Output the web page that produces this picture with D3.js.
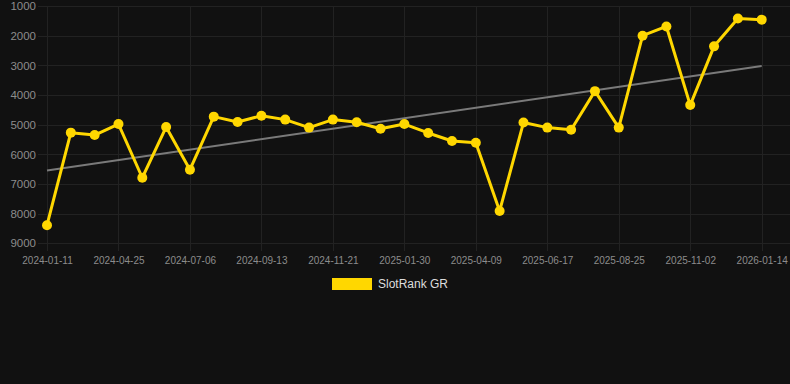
<!DOCTYPE html>
<html>
<head>
<meta charset="utf-8">
<script src="https://cdn.jsdelivr.net/npm/d3@7"></script>
<style>
  html, body { margin: 0; padding: 0; background: #111111; }
  svg { display: block; }
</style>
</head>
<body>
<svg id="chart" width="790" height="384"></svg>
<script>
const dates = [
  "2024-01-11","2024-02-15","2024-03-21","2024-04-25","2024-05-19","2024-06-12",
  "2024-07-06","2024-07-29","2024-08-21","2024-09-13","2024-10-06","2024-10-29",
  "2024-11-21","2024-12-14","2025-01-07","2025-01-30","2025-02-22","2025-03-17",
  "2025-04-09","2025-05-02","2025-05-25","2025-06-17","2025-07-10","2025-08-02",
  "2025-08-25","2025-09-17","2025-10-10","2025-11-02","2025-11-26","2025-12-20",
  "2026-01-14"
];
const ranks = [
  8390, 5270, 5350, 4980, 6790, 5080, 6520, 4730, 4910, 4700, 4830,
  5100, 4830, 4920, 5140, 4980, 5280, 5550, 5610, 7910, 4930, 5100,
  5170, 3870, 5100, 2000, 1690, 4340, 2360, 1420, 1460
];
const yTicks = [1000, 2000, 3000, 4000, 5000, 6000, 7000, 8000, 9000];
const seriesName = "SlotRank GR";

(function () {
const W = 790, H = 384;
const pLeft = 47, pRight = 761.7, pTop = 6, pBottom = 243.3;

const svg = d3.select("#chart");
svg.append("rect").attr("width", W).attr("height", H).attr("fill", "#111111");

const x = d3.scalePoint().domain(dates).range([pLeft, pRight]);
const y = d3.scaleLinear().domain([1000, 9000]).range([pTop, pBottom]);

const gridColor = "#222222";
const labelColor = "#8c8c8c";
const font = "'Liberation Sans', Arial, Helvetica, sans-serif";

// Y axis with horizontal grid
const yAxis = d3.axisLeft(y).tickValues(yTicks).tickFormat(d3.format("d"))
  .tickSize(-(W - 38)).tickPadding(2);
const gy = svg.append("g").attr("transform", `translate(38,0)`).call(yAxis);
gy.select(".domain").remove();
gy.selectAll(".tick line").attr("stroke", gridColor).attr("stroke-width", 1)
  .attr("shape-rendering", "crispEdges");
gy.selectAll(".tick text").attr("fill", labelColor).attr("font-family", font)
  .attr("font-size", "11.5px");

// X axis with vertical grid
const xTickVals = dates.filter((d, i) => i % 3 === 0);
const xAxis = d3.axisBottom(x).tickValues(xTickVals).tickSize(-(pBottom + 8 - pTop)).tickPadding(6);
const gx = svg.append("g").attr("transform", `translate(0,${pBottom + 8})`).call(xAxis);
gx.select(".domain").remove();
gx.selectAll(".tick line").attr("stroke", gridColor).attr("stroke-width", 1)
  .attr("shape-rendering", "crispEdges");
gx.selectAll(".tick text").attr("fill", labelColor).attr("font-family", font)
  .attr("font-size", "10px");

// Trend line (least squares over index)
const n = ranks.length;
const xm = d3.mean(d3.range(n));
const ym = d3.mean(ranks);
let sxy = 0, sxx = 0;
ranks.forEach((v, i) => { sxy += (i - xm) * (v - ym); sxx += (i - xm) * (i - xm); });
const slope = sxy / sxx;
const icpt = ym - slope * xm;
svg.append("line")
  .attr("x1", x(dates[0])).attr("y1", y(icpt))
  .attr("x2", x(dates[n - 1])).attr("y2", y(icpt + slope * (n - 1)))
  .attr("stroke", "#7a7a7a").attr("stroke-width", 2);

// Series line
const gold = "#FFD700";
const line = d3.line().x((d, i) => x(dates[i])).y(d => y(d));
svg.append("path").datum(ranks).attr("d", line)
  .attr("fill", "none").attr("stroke", gold).attr("stroke-width", 3)
  .attr("stroke-linejoin", "round");

svg.append("g").selectAll("circle").data(ranks).join("circle")
  .attr("cx", (d, i) => x(dates[i])).attr("cy", d => y(d))
  .attr("r", 5).attr("fill", gold);

// Legend
const lg = svg.append("g");
lg.append("rect").attr("x", 332).attr("y", 278).attr("width", 40).attr("height", 12)
  .attr("fill", gold);
lg.append("text").attr("x", 378).attr("y", 284).attr("dy", "0.35em")
  .attr("fill", "#dddddd").attr("font-family", font).attr("font-size", "12px")
  .text(seriesName);
})();
</script>
</body>
</html>
